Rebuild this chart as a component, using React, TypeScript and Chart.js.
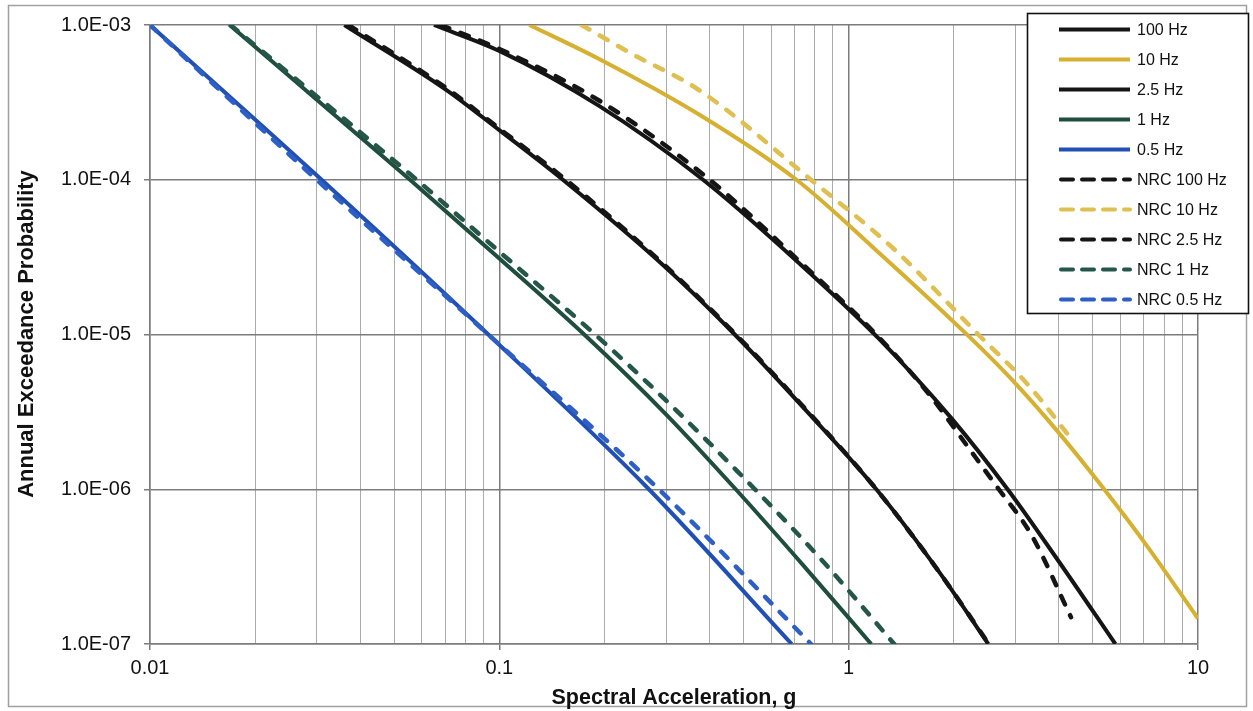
import React, { useEffect, useRef } from "react";
import { Chart, registerables } from "chart.js";

Chart.register(...registerables);

// ---- Data ----
const hz100X = [0.065, 0.1, 0.193, 0.383, 0.72, 1.22, 1.97, 2.85, 4.0, 5.8];
const hz100Y = [1e-3, 6.8e-4, 3.0e-4, 1e-4, 2.9e-5, 9.4e-6, 2.87e-6, 1e-6, 3.4e-7, 1e-7];

const hz10X = [0.122, 0.193, 0.373, 0.709, 1.19, 2.19, 2.92, 3.98, 5.28, 7.2, 10];
const hz10Y = [1e-3, 6.03e-4, 2.64e-4, 1e-4, 3.56e-5, 9.9e-6, 5.16e-6, 2.34e-6, 1.06e-6, 4.2e-7, 1.46e-7];

const hz25X = [0.036, 0.0706, 0.1, 0.152, 0.3, 0.472, 0.72, 1.2, 1.8, 2.51];
const hz25Y = [1e-3, 3.8e-4, 2.09e-4, 1e-4, 2.7e-5, 1e-5, 3.63e-6, 1e-6, 3.0e-7, 1e-7];

const hz1X = [0.0169, 0.0555, 0.1, 0.175, 0.3, 0.475, 0.75, 1.16];
const hz1Y = [1e-3, 1e-4, 3.1e-5, 1e-5, 3.05e-6, 1e-6, 3.13e-7, 1e-7];

const hz05X = [0.01, 0.031, 0.093, 0.268, 0.687];
const hz05Y = [1e-3, 1e-4, 1e-5, 1e-6, 1e-7];

const nrc100X = [0.068, 0.1, 0.193, 0.4, 0.72, 1.22, 1.7, 2.24, 2.69, 3.33, 4.33];
const nrc100Y = [1e-3, 7.0e-4, 3.25e-4, 1e-4, 3.0e-5, 9.6e-6, 4.1e-6, 1.76e-6, 1e-6, 5.1e-7, 1.49e-7];

const nrc10X = [0.172, 0.24, 0.373, 0.78, 1.36, 2.35, 3.3, 4.33];
const nrc10Y = [1e-3, 6.5e-4, 3.8e-4, 1e-4, 3.5e-5, 1e-5, 4.6e-6, 2.13e-6];

const nrc25X = [0.037, 0.0706, 0.1, 0.155, 0.3, 0.475, 0.72, 1.2, 1.8, 2.52];
const nrc25Y = [1e-3, 3.9e-4, 2.14e-4, 1e-4, 2.75e-5, 1e-5, 3.68e-6, 1e-6, 3.0e-7, 1e-7];

const nrc1X = [0.017, 0.058, 0.1, 0.188, 0.3, 0.539, 0.85, 1.35];
const nrc1Y = [1e-3, 1e-4, 3.43e-5, 1e-5, 3.75e-6, 1e-6, 3.36e-7, 1e-7];

const nrc05X = [0.01, 0.03, 0.093, 0.286, 0.78];
const nrc05Y = [1e-3, 1e-4, 1e-5, 1e-6, 1e-7];

const seriesNames = [
  "100 Hz", "10 Hz", "2.5 Hz", "1 Hz", "0.5 Hz",
  "NRC 100 Hz", "NRC 10 Hz", "NRC 2.5 Hz", "NRC 1 Hz", "NRC 0.5 Hz",
];

const xTickValues = [0.01, 0.1, 1, 10];
const xTickLabels = ["0.01", "0.1", "1", "10"];
const yTickValues = [1e-7, 1e-6, 1e-5, 1e-4, 1e-3];
const yTickLabels = ["1.0E-07", "1.0E-06", "1.0E-05", "1.0E-04", "1.0E-03"];

const xTitle = "Spectral Acceleration, g";
const yTitle = "Annual Exceedance Probability";

// ---- Styling ----
const FONT = "'Liberation Sans', Arial, Helvetica, sans-serif";
const BLACK = "#151515";
const GOLD = "#d6b030";
const GOLD_D = "#dfbf50";
const GREEN = "#1f4e3d";
const GREEN_D = "#24574a";
const BLUE = "#2150b5";
const BLUE_D = "#2d5fc4";
const MAJOR = "#7c7c7c";
const MINOR = "#ababab";

const isDecade = (v: number) =>
  Math.abs(Math.log10(v) - Math.round(Math.log10(v))) < 1e-6;

const xGridValues: number[] = [];
for (let e = -2; e <= 1; e++) {
  for (let m = 1; m <= 9; m++) {
    const v = Number((m * Math.pow(10, e)).toPrecision(3));
    if (v <= 10 + 1e-9) xGridValues.push(v);
  }
}

const findIdx = (arr: number[], v: number) =>
  arr.findIndex((t) => Math.abs(t - v) / t < 1e-6);

function mk(label: string, xs: number[], ys: number[], color: string, dashed: boolean) {
  return {
    label,
    data: xs.map((x, i) => ({ x, y: ys[i] })),
    borderColor: color,
    backgroundColor: color,
    borderWidth: dashed ? 4.5 : 4,
    borderDash: dashed ? [9, 12] : [],
    borderCapStyle: dashed ? "round" : "butt",
    pointRadius: 0,
    pointHoverRadius: 0,
    cubicInterpolationMode: "monotone",
    fill: false,
    order: dashed ? 0 : 1,
  };
}

const decorPlugin = {
  id: "decor",
  beforeDraw(chart: any) {
    const ctx = chart.ctx;
    ctx.save();
    ctx.fillStyle = "#ffffff";
    ctx.fillRect(0, 0, chart.width, chart.height);
    ctx.strokeStyle = "#a0a0a0";
    ctx.lineWidth = 1.5;
    ctx.strokeRect(8.5, 5.5, 1238, 701);
    // y axis title
    ctx.translate(27, 334);
    ctx.rotate(-Math.PI / 2);
    ctx.fillStyle = "#111111";
    ctx.font = `bold 22px ${FONT}`;
    ctx.textAlign = "center";
    ctx.textBaseline = "middle";
    ctx.fillText(yTitle, 0, 0);
    ctx.restore();
  },
  afterDraw(chart: any) {
    const ctx = chart.ctx;
    const ds = chart.data.datasets;
    ctx.save();
    ctx.fillStyle = "#ffffff";
    ctx.fillRect(1027, 13, 222, 301);
    ctx.strokeStyle = "#111111";
    ctx.lineWidth = 1.6;
    ctx.strokeRect(1027.5, 13.5, 221, 300);
    ctx.font = `16px ${FONT}`;
    ctx.textBaseline = "middle";
    ctx.textAlign = "left";
    for (let i = 0; i < ds.length; i++) {
      const d = ds[i];
      const y = 29.5 + i * 30;
      const dashed = d.borderDash && d.borderDash.length > 0;
      ctx.beginPath();
      ctx.strokeStyle = d.borderColor;
      ctx.lineWidth = 4;
      ctx.lineCap = dashed ? "round" : "butt";
      ctx.setLineDash(dashed ? [12, 9] : []);
      ctx.moveTo(dashed ? 1061 : 1059, y);
      ctx.lineTo(1130, y);
      ctx.stroke();
      ctx.setLineDash([]);
      ctx.fillStyle = "#111111";
      ctx.fillText(d.label, 1137, y + 1);
    }
    ctx.restore();
  },
};

export default function App() {
  const canvasRef = useRef<HTMLCanvasElement | null>(null);

  useEffect(() => {
    if (!canvasRef.current) return;
    const datasets = [
      mk(seriesNames[0], hz100X, hz100Y, BLACK, false),
      mk(seriesNames[1], hz10X, hz10Y, GOLD, false),
      mk(seriesNames[2], hz25X, hz25Y, BLACK, false),
      mk(seriesNames[3], hz1X, hz1Y, GREEN, false),
      mk(seriesNames[4], hz05X, hz05Y, BLUE, false),
      mk(seriesNames[5], nrc100X, nrc100Y, BLACK, true),
      mk(seriesNames[6], nrc10X, nrc10Y, GOLD_D, true),
      mk(seriesNames[7], nrc25X, nrc25Y, BLACK, true),
      mk(seriesNames[8], nrc1X, nrc1Y, GREEN_D, true),
      mk(seriesNames[9], nrc05X, nrc05Y, BLUE_D, true),
    ];
    const chart = new Chart(canvasRef.current, {
      type: "line",
      data: { datasets } as any,
      plugins: [decorPlugin],
      options: {
        responsive: false,
        animation: false,
        devicePixelRatio: 1,
        layout: { padding: { left: 8, top: 21, right: 55, bottom: 0 } },
        plugins: {
          legend: { display: false },
          tooltip: { enabled: false },
          title: { display: false },
        },
        scales: {
          x: {
            type: "logarithmic",
            position: "bottom",
            min: 0.01,
            max: 10,
            afterBuildTicks: (s: any) => {
              s.ticks = xGridValues.map((v) => ({ value: v }));
            },
            afterFit: (s: any) => {
              s.height = 67;
            },
            ticks: {
              autoSkip: false,
              maxRotation: 0,
              minRotation: 0,
              padding: 6,
              color: "#111",
              font: { family: FONT, size: 20 },
              callback: (v: any) => {
                const i = findIdx(xTickValues, Number(v));
                return i >= 0 ? xTickLabels[i] : "";
              },
            },
            grid: {
              color: (c: any) => (c.tick && isDecade(c.tick.value) ? MAJOR : MINOR),
              lineWidth: (c: any) => (c.tick && isDecade(c.tick.value) ? 1.5 : 1),
              tickLength: 6,
              tickColor: (c: any) =>
                c.tick && isDecade(c.tick.value) ? MAJOR : "rgba(0,0,0,0)",
            },
            border: { color: MAJOR, width: 1.5 },
            title: {
              display: true,
              text: xTitle,
              color: "#111",
              font: { family: FONT, size: 21.5, weight: "bold" },
              padding: { top: 0, bottom: 0 },
            },
          },
          y: {
            type: "logarithmic",
            min: 1e-7,
            max: 1e-3,
            afterBuildTicks: (s: any) => {
              s.ticks = yTickValues.map((v) => ({ value: v }));
            },
            afterFit: (s: any) => {
              s.width = 142;
            },
            ticks: {
              autoSkip: false,
              padding: 13,
              color: "#111",
              font: { family: FONT, size: 20 },
              callback: (v: any) => {
                const i = findIdx(yTickValues, Number(v));
                return i >= 0 ? yTickLabels[i] : "";
              },
            },
            grid: {
              color: MAJOR,
              lineWidth: 1.5,
              tickLength: 6,
              tickColor: MAJOR,
            },
            border: { color: MAJOR, width: 1.5 },
            title: { display: false },
          },
        },
      } as any,
    });
    return () => chart.destroy();
  }, []);

  return (
    <div
      style={{
        position: "fixed",
        left: 0,
        top: 0,
        width: 1253,
        height: 711,
        background: "#fff",
      }}
    >
      <canvas
        ref={canvasRef}
        width={1253}
        height={711}
        style={{ display: "block", width: 1253, height: 711 }}
      />
    </div>
  );
}
